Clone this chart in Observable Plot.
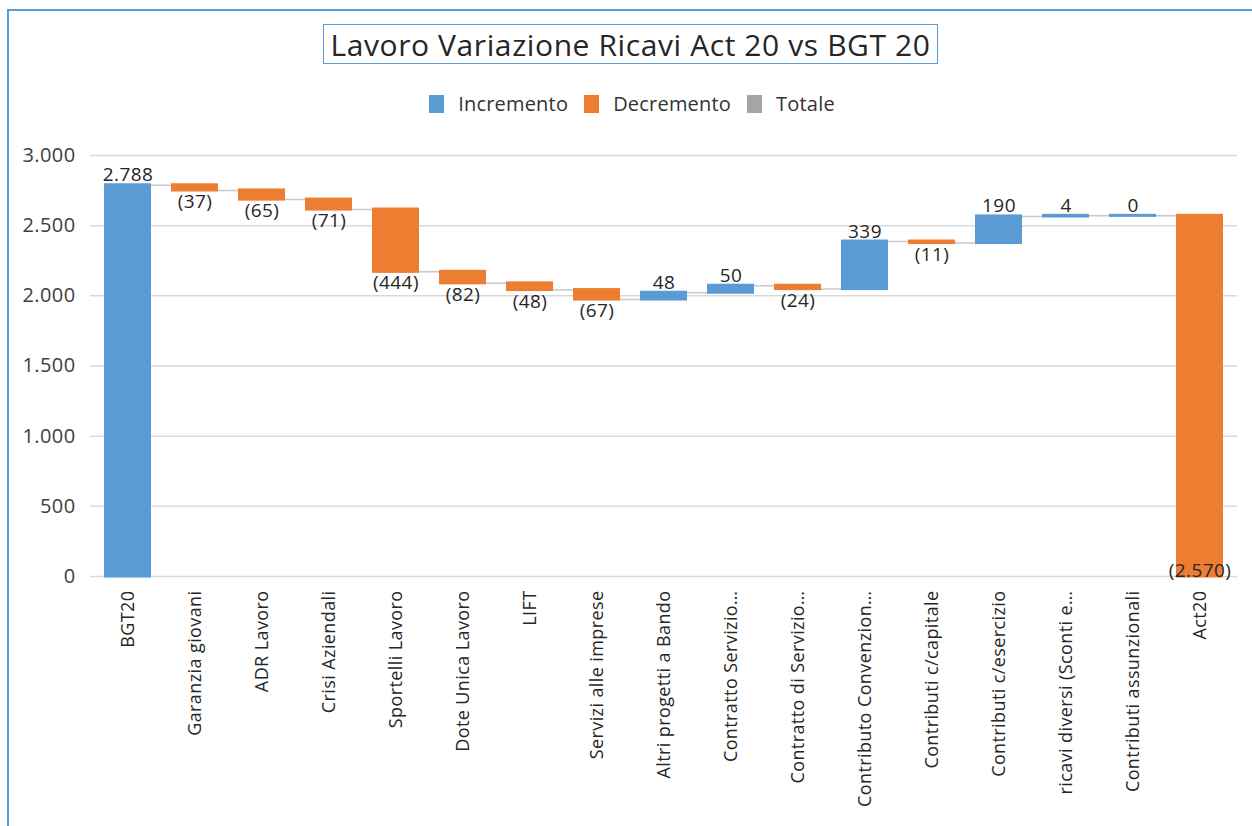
<!DOCTYPE html>
<html>
<head>
<meta charset="utf-8">
<script src="https://cdn.jsdelivr.net/npm/d3@7"></script>
<script src="https://cdn.jsdelivr.net/npm/@observablehq/plot@0.6"></script>
<style>
  html, body { margin: 0; padding: 0; background: #fff; }
  #page { position: relative; width: 1252px; height: 826px; overflow: hidden; font-family: "Open Sans", sans-serif; color: #262626; }
  #frame { position: absolute; left: 7px; top: 9px; width: 1300px; height: 900px; border-left: 2px solid #5b9bd5; border-top: 2px solid #5b9bd5; box-sizing: border-box; }
  #title { position: absolute; left: 323px; top: 24px; width: 615px; height: 40px; border: 1.5px solid #5b9bd5; box-sizing: border-box; display: flex; align-items: center; justify-content: center; font-size: 30px; letter-spacing: 0.6px; color: #262626; white-space: nowrap; }
  #legend { position: absolute; left: 0; top: 90px; width: 1264px; display: flex; justify-content: center; font-size: 20px; letter-spacing: 0.2px; color: #333; }
  .item { display: flex; align-items: center; margin: 0 8px; }
  .sw { width: 15px; height: 18px; margin-right: 14px; }
  #chart { position: absolute; left: 0; top: 130px; }
</style>
</head>
<body>
<div id="page">
  <div id="frame"></div>
  <div id="title">Lavoro Variazione Ricavi Act 20 vs BGT 20</div>
  <div id="legend"></div>
  <div id="chart"></div>
</div>
<script>
// ---- data ----
const categories = [
  "BGT20", "Garanzia giovani", "ADR Lavoro", "Crisi Aziendali", "Sportelli Lavoro",
  "Dote Unica Lavoro", "LIFT", "Servizi alle imprese", "Altri progetti a Bando",
  "Contratto Servizio…", "Contratto di Servizio…", "Contributo Convenzion…",
  "Contributi c/capitale", "Contributi c/esercizio", "ricavi diversi (Sconti e…",
  "Contributi assunzionali", "Act20"
];
const values = [2788, -37, -65, -71, -444, -82, -48, -67, 48, 50, -24, 339, -11, 190, 4, 0, -2570];
const kinds = ["total", "delta", "delta", "delta", "delta", "delta", "delta", "delta", "delta",
  "delta", "delta", "delta", "delta", "delta", "delta", "delta", "total"];
const legendNames = ["Incremento", "Decremento", "Totale"];
const legendColors = ["#5b9bd5", "#ed7d31", "#a5a5a5"];
const yTicks = [0, 500, 1000, 1500, 2000, 2500, 3000];

// ---- derived table ----
let running = 0;
const rows = categories.map((c, i) => {
  const v = values[i];
  let start, end;
  if (kinds[i] === "total") { start = 0; end = Math.abs(v); running = end; }
  else { start = running; end = running + v; running = end; }
  return { cat: c, value: v, kind: kinds[i], start, end,
           sign: v < 0 ? "Decremento" : "Incremento" };
});
const connectors = rows.slice(0, -1).map((r, i) => ({ x1: r.cat, x2: rows[i + 1].cat, y: r.end }));

const it = d3.formatLocale({ decimal: ",", thousands: ".", grouping: [3], currency: ["", "€"] });
const fmt = it.format(",d");
const lab = v => v < 0 ? "(" + fmt(-v) + ")" : fmt(v);

const up = rows.filter(r => r.value >= 0);
const down = rows.filter(r => r.kind === "delta" && r.value < 0);
const totNeg = rows.filter(r => r.kind === "total" && r.value < 0);

// legend
const lg = document.getElementById("legend");
legendNames.forEach((n, i) => {
  const d = document.createElement("div"); d.className = "item";
  d.innerHTML = `<span class="sw" style="background:${legendColors[i]}"></span><span>${n}</span>`;
  lg.appendChild(d);
});

const chart = Plot.plot({
  width: 1252,
  height: 696,
  marginTop: 25,
  marginBottom: 250,
  marginLeft: 90,
  marginRight: 15,
  style: { fontFamily: "Open Sans, sans-serif", fontSize: "17px", color: "#333", background: "transparent", letterSpacing: "0.4px" },
  x: { domain: categories, paddingInner: 0.3, paddingOuter: 0.15, label: null },
  y: { domain: [0, 3000], ticks: yTicks, label: null },
  color: { domain: ["Incremento", "Decremento", "Totale"], range: legendColors },
  marks: [
    Plot.gridY(yTicks, { stroke: "#d9d9d9", strokeOpacity: 1, strokeWidth: 1.5 }),
    Plot.axisY(yTicks, { tickSize: 0, tickPadding: 15, tickFormat: fmt, fontSize: 20, fill: "#404040", label: null }),
    Plot.ruleY(connectors, { x1: "x1", x2: "x2", y: "y", stroke: "#c8c8c8", strokeWidth: 1.5 }),
    Plot.barY(rows, { x: "cat", y1: "start", y2: "end", fill: "sign", insetTop: -1.5, insetBottom: -1.5 }),
    Plot.text(up, { x: "cat", y: "end", text: d => lab(d.value), lineAnchor: "bottom", dy: -4, fontSize: 19, fill: "#262626" }),
    Plot.text(down, { x: "cat", y: "end", text: d => lab(d.value), lineAnchor: "top", dy: 4, fontSize: 19, fill: "#262626" }),
    Plot.text(totNeg, { x: "cat", y: 0, text: d => lab(d.value), lineAnchor: "bottom", dy: 0, fontSize: 19, fill: "#262626" }),
    Plot.axisX({ tickRotate: -90, tickSize: 0, tickPadding: 14, fontSize: 18, fill: "#262626", label: null })
  ]
});
document.getElementById("chart").appendChild(chart);
</script>
</body>
</html>
